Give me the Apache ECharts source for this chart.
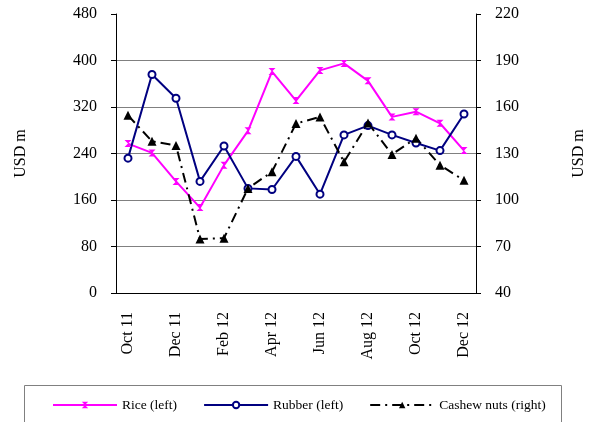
<!DOCTYPE html>
<html>
<head>
<meta charset="utf-8">
<script src="https://cdn.jsdelivr.net/npm/echarts@6/dist/echarts.min.js"></script>
<style>
  html, body { margin: 0; padding: 0; background: #fff; }
  #main { width: 589px; height: 422px; }
</style>
</head>
<body>
<div id="main"></div>
<script>
// months Oct 11 - Dec 12
var months = ['Oct 11', 'Nov 11', 'Dec 11', 'Jan 12', 'Feb 12', 'Mar 12', 'Apr 12', 'May 12',
  'Jun 12', 'Jul 12', 'Aug 12', 'Sep 12', 'Oct 12', 'Nov 12', 'Dec 12']
// left axis, USD m
var rice = [257, 241, 192, 147, 220, 279, 381, 331, 383, 395, 365, 303, 312, 292, 245]
var rubber = [232, 376, 335, 192, 253, 180, 178, 235, 170, 272, 288, 272, 258, 245, 308]
// right axis, USD m
var cashew = [154.6, 137.9, 135.2, 74.9, 75.4, 107.5, 118.2, 149.3, 153.6, 124.6, 149.7, 129.4, 139.9, 122.5, 112.7]

var font = 'Liberation Serif'
var myChart = echarts.init(document.getElementById('main'))

var option = {
  animation: false,
  textStyle: { fontFamily: font },
  grid: { left: 116, right: 113, top: 14, bottom: 129, outerBoundsMode: 'none' },
  legend: {
    left: 47,
    top: 393,
    itemWidth: 64,
    itemHeight: 8,
    itemGap: 26,
    textStyle: { fontFamily: font, fontSize: 13.5, color: '#000' },
    data: ['Rice (left)', 'Rubber (left)', 'Cashew nuts (right)']
  },
  graphic: [{
    type: 'rect',
    shape: { x: 24.5, y: 385.5, width: 537, height: 60 },
    style: { fill: 'none', stroke: '#808080', lineWidth: 1 }
  }],
  xAxis: {
    type: 'category',
    data: months,
    boundaryGap: true,
    axisLine: { lineStyle: { color: '#000', width: 1 } },
    axisTick: { interval: 1, length: 5, lineStyle: { color: '#000' } },
    axisLabel: { interval: 1, rotate: 90, margin: 19, fontSize: 16, color: '#000', fontFamily: font }
  },
  yAxis: [{
    type: 'value',
    min: 0, max: 480, interval: 80,
    name: 'USD m',
    nameLocation: 'middle',
    nameGap: 87,
    nameRotate: 90,
    nameTextStyle: { fontSize: 16, color: '#000', fontFamily: font },
    axisLine: { show: true, lineStyle: { color: '#000', width: 1 } },
    axisTick: { show: true, length: 5, lineStyle: { color: '#000' } },
    axisLabel: { margin: 19, fontSize: 16, color: '#000', fontFamily: font },
    splitLine: {
      show: true,
      lineStyle: {
        color: ['#808080', '#808080', '#808080', '#808080', '#808080', '#808080', 'rgba(0,0,0,0)'],
        width: 1
      }
    }
  }, {
    type: 'value',
    position: 'right',
    min: 40, max: 220, interval: 30,
    name: 'USD m',
    nameLocation: 'middle',
    nameGap: 95,
    nameRotate: 90,
    nameTextStyle: { fontSize: 16, color: '#000', fontFamily: font },
    axisLine: { show: true, lineStyle: { color: '#000', width: 1 } },
    axisTick: { show: true, length: 5, lineStyle: { color: '#000' } },
    axisLabel: { margin: 19, fontSize: 16, color: '#000', fontFamily: font },
    splitLine: { show: false }
  }],
  series: [{
    name: 'Rice (left)',
    type: 'line',
    yAxisIndex: 0,
    data: rice,
    symbol: 'path://M0,0 L10,0 L0,10 L10,10 Z',
    symbolSize: 7,
    itemStyle: { color: '#FF00FF' },
    lineStyle: { color: '#FF00FF', width: 2 }
  }, {
    name: 'Rubber (left)',
    type: 'line',
    yAxisIndex: 0,
    data: rubber,
    symbol: 'emptyCircle',
    symbolSize: 7,
    itemStyle: { color: '#000080', borderWidth: 1.5 },
    lineStyle: { color: '#000080', width: 2 }
  }, {
    name: 'Cashew nuts (right)',
    type: 'line',
    yAxisIndex: 1,
    data: cashew,
    symbol: 'triangle',
    symbolSize: 9,
    itemStyle: { color: '#000' },
    lineStyle: { color: '#000', width: 2, type: [10, 5, 2, 5] }
  }]
}

myChart.setOption(option)
</script>
</body>
</html>
